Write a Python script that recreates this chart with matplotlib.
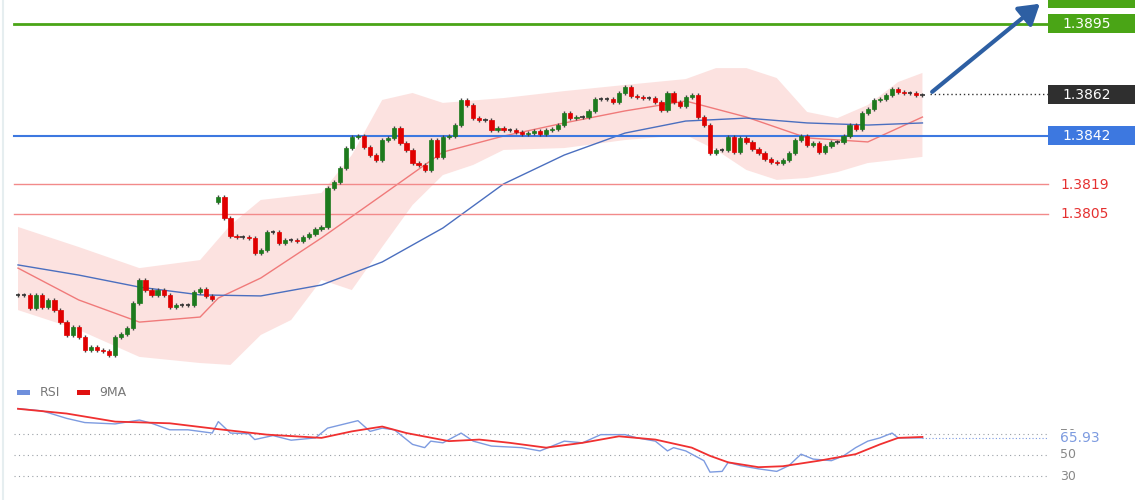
import matplotlib
matplotlib.use("Agg")
import matplotlib.pyplot as plt
from matplotlib.patches import FancyArrowPatch, Rectangle
import numpy as np

closes = [1.37666,1.37666,1.37604,1.37666,1.37609,1.37642,1.37594,1.37537,1.37476,1.37514,1.37466,1.37405,1.37419,1.37405,1.37400,1.37381,1.37466,1.37481,1.37509,1.37628,1.37737,1.37689,1.37666,1.37689,1.37666,1.37609,1.37618,1.37618,1.37618,1.37680,1.37694,1.37661,1.37647,
1.38130,1.38030,1.37945,1.37940,1.37940,1.37936,1.37865,1.37879,1.37964,1.37964,
1.37912,1.37926,1.37926,1.37921,1.37940,1.37955,1.37978,1.37988,1.38173,1.38201,
1.38267,1.38362,1.38414,1.38419,1.38367,1.38329,1.38305,1.38400,1.38410,1.38457,
1.38386,1.38353,1.38291,1.38282,1.38258,1.38400,1.38320,1.38414,1.38419,1.38471,
1.38590,1.38566,1.38504,1.38495,1.38495,1.38448,1.38457,
1.38448,1.38448,1.38438,1.38429,1.38433,1.38443,1.38429,1.38448,1.38452,1.38471,
1.38528,1.38504,1.38509,1.38509,1.38538,1.38594,1.38594,1.38594,1.38580,1.38623,
1.38651,1.38609,1.38604,1.38599,1.38599,1.38580,1.38542,1.38623,1.38580,1.38561,
1.38604,1.38613,1.38509,1.38471,1.38339,1.38353,1.38353,1.38414,1.38343,1.38410,
1.38391,1.38358,1.38339,1.38310,1.38296,1.38291,1.38305,1.38339,1.38400,1.38419,
1.38376,1.38386,1.38343,1.38372,1.38391,1.38391,1.38419,1.38471,1.38452,1.38528,
1.38547,1.38590,1.38594,1.38613,1.38642,1.38628,1.38623,1.38623,1.38613,1.38613]
first_open = 1.37666
gap_index = 33
gap_open = 1.38106
wick = 0.00009

blue_ma_idx = [0,10,20,30,40,50,60,70,80,90,100,110,120,130,140,149]
blue_ma = [1.37808,1.37760,1.37703,1.37666,1.37661,1.37713,1.37822,1.37983,1.38192,1.38329,1.38433,1.38490,1.38504,1.38481,1.38471,1.38481]
red_ma_idx = [0,10,20,30,33,40,50,60,70,80,90,100,110,120,130,140,149]
red_ma = [1.37793,1.37642,1.37537,1.37561,1.37651,1.37746,1.37936,1.38139,1.38343,1.38419,1.38481,1.38538,1.38585,1.38509,1.38410,1.38391,1.38509]
upper_idx = [0,10,20,30,35,40,50,55,60,65,70,80,90,100,110,115,120,125,130,135,140,145,149]
upper = [1.37988,1.37893,1.37793,1.37831,1.37997,1.38116,1.38149,1.38329,1.38590,1.38623,1.38576,1.38599,1.38632,1.38661,1.38689,1.38741,1.38741,1.38694,1.38533,1.38504,1.38566,1.38675,1.38718]
lower_idx = [0,10,20,30,35,40,45,50,55,60,65,70,75,80,90,100,110,115,120,125,130,135,140,149]
lower = [1.37594,1.37500,1.37372,1.37343,1.37334,1.37476,1.37547,1.37737,1.37689,1.37893,1.38092,1.38234,1.38282,1.38353,1.38362,1.38400,1.38424,1.38353,1.38258,1.38211,1.38220,1.38248,1.38291,1.38320]

levels = [1.3895, 1.3842, 1.3819, 1.3805]
level_labels = ["1.3895", "1.3842", "1.3819", "1.3805"]
last_price = 1.3862
last_label = "1.3862"

rsi_idx = [0,4,8,11,16,20,22,25,28,32,33,35,38,39,42,45,49,51,56,58,60,62,65,67,68,70,73,75,78,83,86,90,93,96,100,102,105,107,108,110,113,114,116,117,119,122,125,127,129,131,134,136,138,140,142,144,145,149]
rsi = [94.2,92,84.9,80.9,79.6,83.3,80.2,74,74,70.9,81.8,70.9,70.3,64.7,68.5,64.1,66.3,75.6,82.7,72.5,75.6,74,60.1,57,63.2,61.6,70.9,63.2,58.5,57,53.9,63.2,61.6,69.4,69.4,66.3,63.2,53.9,57,53.9,44.6,33.7,34.4,43,39.9,36.8,34.4,39.9,50.8,46.1,44.6,49.2,57,63.2,66.3,70.9,66.3,66.3]
ma9_idx = [0,8,16,25,33,41,50,55,60,64,71,76,81,87,93,99,105,111,114,117,122,126,132,138,142,145,149]
ma9 = [94,89.5,81.8,80.2,74.6,69.4,66.3,72.5,77.1,70.9,63.2,64.7,61.6,57,61.6,67.8,64.7,57,49.2,43,38.4,39.3,44.6,50.8,60.1,66.3,67.2]
rsi_levels = [70, 50, 30]
rsi_last_label = "65.93"

W, H = 1140, 500
fig = plt.figure(figsize=(11.4, 5.0), dpi=100)
fig.patch.set_facecolor("white")

step = 6.07
x0 = 18
xlim = (-x0/step, (W - x0)/step)
def px2x(px): return (px - x0)/step

# price axis: pixel y 0..380
ax = fig.add_axes([0, 120/H, 1, 380/H])
ppp = 0.0000474
ax.set_xlim(*xlim)
ax.set_ylim(1.3895 - (380-24)*ppp, 1.3895 + 24*ppp)
ax.axis("off")

# band
bx = list(upper_idx) + list(lower_idx)[::-1]
by = list(upper) + list(lower)[::-1]
ax.fill(bx, by, color="#fbd9d6", alpha=0.75, lw=0, zorder=1)
ax.plot(red_ma_idx, red_ma, color="#f07a7a", lw=1, zorder=2)
ax.plot(blue_ma_idx, blue_ma, color="#4b6fbf", lw=1, zorder=2)

# levels
ax.plot([px2x(14), px2x(1048)], [levels[0]]*2, color="#4aa516", lw=2, zorder=3)
ax.plot([px2x(14), px2x(1048)], [levels[1]]*2, color="#3d78e0", lw=1.5, zorder=3)
for lv in levels[2:]:
    ax.plot([px2x(14), px2x(1048)], [lv]*2, color="#f28a8a", lw=1, zorder=3)

# candles
n = len(closes)
idx = np.arange(n)
opens = [first_open] + closes[:-1]
opens[gap_index] = gap_open
for i in range(n):
    o, c = opens[i], closes[i]
    col = "#1d7a1d" if c > o else ("#e00000" if c < o else "#333333")
    ax.vlines(i, min(o, c) - wick, max(o, c) + wick, color="#444444", lw=1, zorder=4)
    h = abs(c - o)
    if h < 0.00002:
        ax.hlines(c, i-0.35, i+0.35, color="#333333", lw=1.2, zorder=5)
    else:
        ax.bar(i, h, bottom=min(o, c), width=0.7, color=col, edgecolor=col, lw=0.5, zorder=5)

# last price dotted
ax.plot([px2x(930), px2x(1048)], [last_price]*2, color="#333333", lw=1, ls=(0, (1, 2)), zorder=3)

# arrow
arr = FancyArrowPatch((px2x(930), last_price), (px2x(1042), 1.3895 + 22*ppp),
                      arrowstyle="-|>,head_length=8,head_width=5", color="#2d5fa3", lw=3, zorder=6,
                      mutation_scale=1.5)
ax.add_patch(arr)

# labels on right
def box(price, text, fc, tc="white"):
    ax.text(px2x(1060), price, text, ha="left", va="center", fontsize=10, color=tc, zorder=8,
            bbox=dict(boxstyle="square,pad=0.35", fc=fc, ec=fc) if fc else None)
fig.patches.append(Rectangle((1048/W, 120/H + (380-16)/H*0 + 492/H - 120/H), 87/W, 8/H,
                             transform=fig.transFigure, fc="#4aa516", ec="none"))
fig.patches.append(Rectangle((1048/W, (500-33)/H), 87/W, 19/H, transform=fig.transFigure, fc="#4aa516", ec="none"))
fig.text(1062/W, (500-24)/H, level_labels[0], color="white", fontsize=10, va="center")
fig.patches.append(Rectangle((1048/W, (500-145)/H), 87/W, 19/H, transform=fig.transFigure, fc="#3d78e0", ec="none"))
fig.text(1062/W, (500-136)/H, level_labels[1], color="white", fontsize=10, va="center")
fig.patches.append(Rectangle((1048/W, (500-104)/H), 87/W, 19/H, transform=fig.transFigure, fc="#2f2f2f", ec="none"))
fig.text(1062/W, (500-95)/H, last_label, color="white", fontsize=10, va="center")
fig.text(1060/W, (500-185)/H, level_labels[2], color="#e53030", fontsize=10, va="center")
fig.text(1060/W, (500-214)/H, level_labels[3], color="#e53030", fontsize=10, va="center")

# left border
fig.add_artist(plt.Line2D([3/W, 3/W], [0, 1], color="#e6eef0", lw=1.5, transform=fig.transFigure))

# RSI axis: pixel y 395..500
ax2 = fig.add_axes([0, 0, 1, 105/H])
ax2.set_xlim(*xlim)
sc = 20/21.0
ax2.set_ylim(70 - (500-434)*sc, 70 + (434-395)*sc)
ax2.axis("off")
for lv in rsi_levels:
    ax2.plot([px2x(14), px2x(1048)], [lv]*2, color="#9aa0a6", lw=0.8, ls=(0, (1, 3)), zorder=1)
ax2.plot(rsi_idx, rsi, color="#7d9be0", lw=1, zorder=3)
ax2.plot(ma9_idx, ma9, color="#f03030", lw=1.3, zorder=4)
ax2.plot([px2x(922), px2x(1048)], [rsi[-1]]*2, color="#7d9be0", lw=0.8, ls=(0, (1, 2)))
fig.text(1060/W, (500-434)/H, str(rsi_levels[0]), color="#888888", fontsize=9, va="center")
fig.text(1060/W, (500-455)/H, str(rsi_levels[1]), color="#888888", fontsize=9, va="center")
fig.text(1060/W, (500-476)/H, str(rsi_levels[2]), color="#888888", fontsize=9, va="center")
fig.text(1060/W, (500-438)/H, rsi_last_label, color="#7d9be0", fontsize=10, va="center",
         bbox=dict(boxstyle="square,pad=0.1", fc="white", ec="none"))

# legend
fig.patches.append(Rectangle((17/W, (500-395)/H), 13/W, 5/H, transform=fig.transFigure, fc="#6f8fdc", ec="none"))
fig.text(40/W, (500-392)/H, "RSI", color="#777777", fontsize=9, va="center")
fig.patches.append(Rectangle((77/W, (500-395)/H), 13/W, 5/H, transform=fig.transFigure, fc="#e01010", ec="none"))
fig.text(99/W, (500-392)/H, "9MA", color="#777777", fontsize=9, va="center")

fig.savefig("out.png", dpi=100)
